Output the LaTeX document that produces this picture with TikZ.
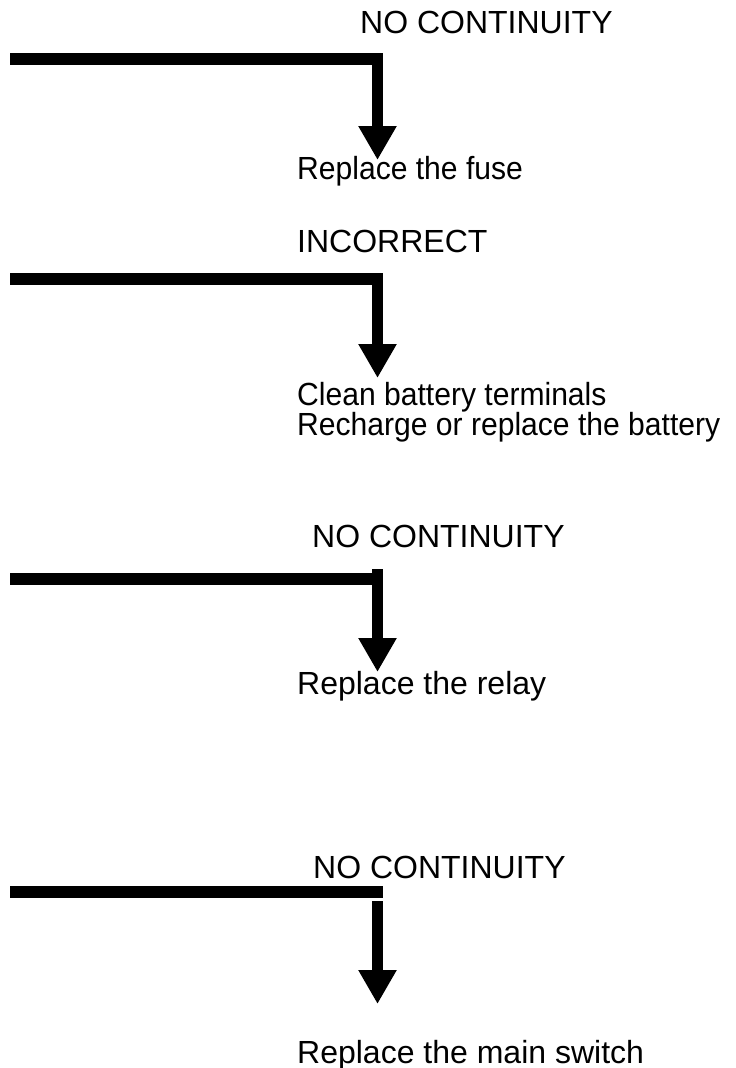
\documentclass[tikz,border=0pt]{standalone}
\usepackage{fontspec}
\setmainfont{Liberation Sans}
\newfontfamily\narrowfont[FakeStretch=0.94]{Liberation Sans}
\usetikzlibrary{arrows.meta}
\tikzset{
   cond/.style = { font=\fontsize{32}{30}\selectfont, anchor=base west, inner sep=0pt },
  narrow/.style = { cond, font=\narrowfont\fontsize{32}{30}\selectfont },
    fix/.style = { narrow, align=left },
    bar/.style = { line width=12pt },
  arrow/.style = { line width=11.5pt, -{Triangle[length=34pt,width=36pt]} },
}

\begin{document}
\begin{tikzpicture}[x=1pt,y=-1pt]
  \useasboundingbox (0,0) rectangle (736,1068);

  \node[cond]   (c1) at (360,33)   {NO CONTINUITY};
  \node[narrow] (f1) at (297,179)  {Replace the fuse};
  \node[cond]   (c2) at (297,252)  {INCORRECT};
  \node[fix]    (f2) at (297,435)  {Clean battery terminals\\Recharge or replace the battery};
  \node[cond]   (c3) at (312,547)  {NO CONTINUITY};
  \node[cond]   (f3) at (297,694)  {Replace the relay};
  \node[cond]   (c4) at (313,878)  {NO CONTINUITY};
  \node[cond]   (f4) at (297,1063) {Replace the main switch};

  % bar from the left, then the arrow down to the fix
  \foreach \i/\yb/\yk/\yt in {1/58.5/53/160, 2/278.5/273/378, 3/578.5/569/672, 4/891.5/901/1004} {
    \coordinate (b\i) at (10,\yb);
    \coordinate (e\i) at (383,\yb);
    \coordinate (k\i) at (377.5,\yk);
    \coordinate (t\i) at (377.5,\yt);
    \draw [bar]   (b\i) -- (e\i);
    \draw [arrow] (k\i) -- (t\i);
  }
\end{tikzpicture}
\end{document}
